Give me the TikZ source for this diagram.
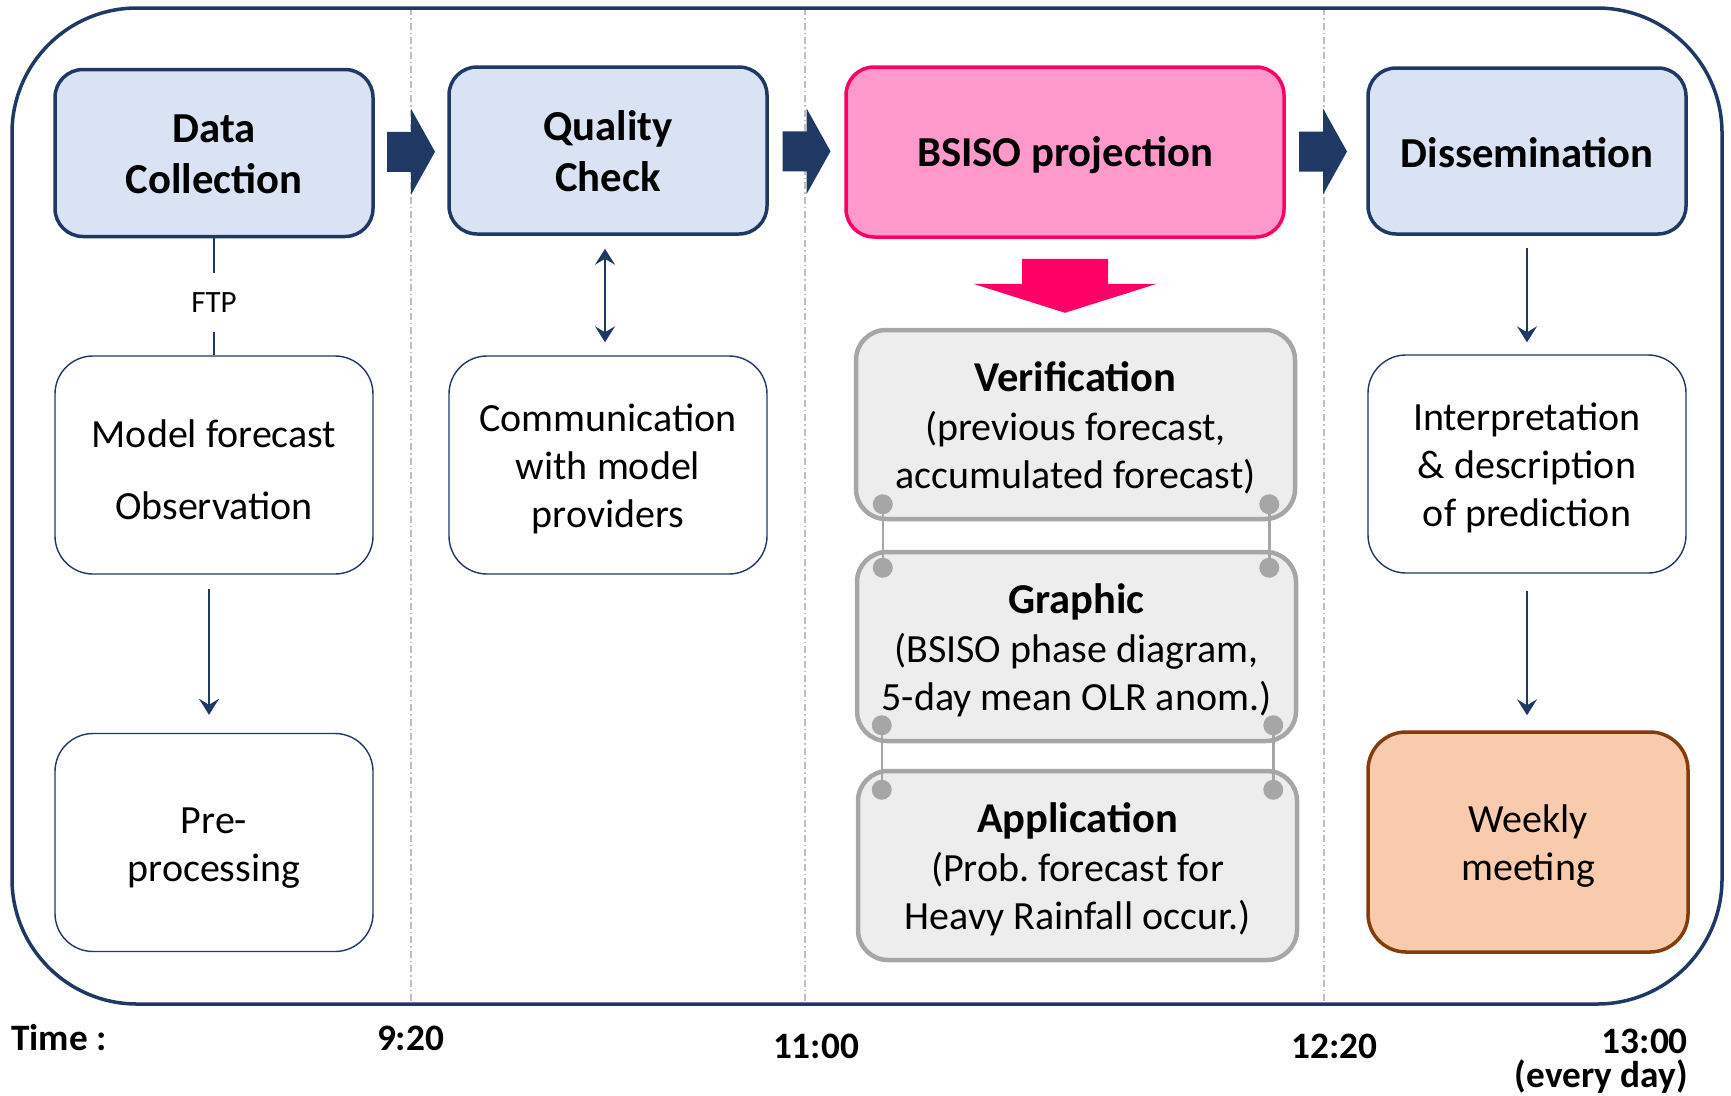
\documentclass[tikz,border=0pt]{standalone}
\usepackage{fontspec}
\setmainfont{Carlito}
\frenchspacing
\usetikzlibrary{arrows.meta,calc}
\definecolor{navy}{HTML}{203864}
\definecolor{lblue}{HTML}{DAE3F3}
\definecolor{pinkfill}{HTML}{FF99CC}
\definecolor{pinkline}{HTML}{FF0066}
\definecolor{grayfill}{HTML}{EDEDED}
\definecolor{grayline}{HTML}{A6A6A6}
\definecolor{orfill}{HTML}{F8CBAD}
\definecolor{orline}{HTML}{843C0C}
\definecolor{guidegray}{HTML}{BFBFBF}
\newcommand\navyarrow[1]{\fill[navy] ($(#1)+(-24,-20)$) -- ($(#1)+(0,-20)$) -- ($(#1)+(0,-43)$) -- ($(#1)+(24,0)$) -- ($(#1)+(0,43)$) -- ($(#1)+(0,20)$) -- ($(#1)+(-24,20)$) -- cycle;}
\newcommand\txtdown[2]{\raisebox{-#1}[\height][\depth]{\begin{tabular}{@{}c@{}}#2\end{tabular}}}
\newcommand\graytitle[1]{{\fontsize{42.5}{48.5}\selectfont\bfseries #1}}
\begin{document}
\begin{tikzpicture}[x=1pt,y=-1pt,
  topbox/.style={draw=navy, line width=3.5pt, fill=lblue, rounded corners=28pt,
    minimum width=318pt, minimum height=167pt, inner sep=0pt,
    font=\fontsize{42.7}{51}\selectfont\bfseries},
  whitebox/.style={draw=navy, line width=1.4pt, fill=white, rounded corners=38pt,
    minimum width=318pt, minimum height=218pt, inner sep=0pt,
    font=\fontsize{40}{48}\selectfont},
  graybox/.style={draw=grayline, line width=4.5pt, fill=grayfill, rounded corners=30pt,
    minimum width=439pt, minimum height=189pt, inner sep=0pt,
    font=\fontsize{40}{48.5}\selectfont},
  dotnode/.style={circle, fill=grayline, inner sep=0pt, minimum size=20pt},
  chainline/.style={draw=grayline, line width=2.5pt},
  guide/.style={draw=guidegray, line width=1.2pt, dash pattern=on 7pt off 3pt on 1.5pt off 3pt},
  arr/.style={draw=navy, line width=1.8pt, -{Stealth[length=16pt, width=20pt, inset=6pt]}},
  biarr/.style={draw=navy, line width=1.8pt, {Stealth[length=16pt, width=20pt, inset=6pt]}-{Stealth[length=16pt, width=20pt, inset=6pt]}},
  timelbl/.style={font=\fontsize{37.3}{40}\selectfont\bfseries, inner sep=0pt},
]
\useasboundingbox (0,0) rectangle (1731,1095);

% guides
\draw[guide] (411,8) -- (411,1004);
\draw[guide] (805,8) -- (805,1004);
\draw[guide] (1324,8) -- (1324,1004);

% frame
\draw[navy, line width=3.5pt, rounded corners=125pt] (12,8) rectangle (1722,1004);

% top row
\node[topbox] (dc) at (214,153) {\txtdown{4.7pt}{Data\\Collection}};
\node[topbox] (qc) at (608,150.5) {\txtdown{4.8pt}{Quality\\Check}};
\node[topbox, draw=pinkline, fill=pinkfill, minimum width=438pt, minimum height=170pt] (bsiso) at (1065,152) {\txtdown{4.1pt}{BSISO projection}};
\node[topbox, minimum height=166pt] (dis) at (1527,151) {\txtdown{5.9pt}{Dissemination}};

% block arrows
\coordinate (a1) at ($(dc.east)!0.5!(qc.west)$);
\coordinate (a2) at ($(qc.east)!0.5!(bsiso.west)$);
\coordinate (a3) at ($(bsiso.east)!0.5!(dis.west)+(-3,0)$);
\navyarrow{a1}
\navyarrow{a2}
\navyarrow{a3}

% white boxes
\node[whitebox] (model) at (214,465) {\txtdown{9.2pt}{Model forecast\\[24pt]Observation}};
\node[whitebox] (comm) at (608,465) {\txtdown{4.5pt}{Communication\\with model\\providers}};
\node[whitebox] (pre) at (214,842.5) {\txtdown{5pt}{Pre-\\processing}};
\node[whitebox] (interp) at (1527,464) {\txtdown{4.5pt}{Interpretation\\\& description\\of prediction}};
\node[whitebox, draw=orline, fill=orfill, line width=3.5pt, minimum width=320pt, minimum height=220pt] (weekly) at (1528,842) {\txtdown{4.5pt}{Weekly\\meeting}};

% gray boxes
\node[graybox] (verif) at (1075.5,424.5) {\txtdown{6pt}{\graytitle{Verification}\\(previous forecast,\\accumulated forecast)}};
\node[graybox] (graphic) at (1076.5,646.5) {\txtdown{6pt}{\graytitle{Graphic}\\(BSISO phase diagram,\\5-day mean OLR anom.)}};
\node[graybox] (app) at (1077.5,865.5) {\txtdown{6pt}{\graytitle{Application}\\(Prob. forecast for\\Heavy Rainfall occur.)}};

% pink arrow
\coordinate (pa) at ($(bsiso.south)+(0,46)$);
\fill[pinkline] ($(pa)+(-43,-26)$) -- ($(pa)+(43,-26)$) -- ($(pa)+(43,-1)$) -- ($(pa)+(92,-1)$)
  -- ($(pa)+(0,28)$) -- ($(pa)+(-92,-1)$) -- ($(pa)+(-43,-1)$) -- cycle;

% chain connectors
\node[dotnode] (v1) at ($(verif.south west)+(29,-17)$) {};
\node[dotnode] (v2) at ($(verif.south east)+(-28,-17)$) {};
\node[dotnode] (g1) at ($(graphic.north west)+(28,18)$) {};
\node[dotnode] (g2) at ($(graphic.north east)+(-29,18)$) {};
\node[dotnode] (g3) at ($(graphic.south west)+(27,-18)$) {};
\node[dotnode] (g4) at ($(graphic.south east)+(-25,-18)$) {};
\node[dotnode] (p1) at ($(app.north west)+(26,21)$) {};
\node[dotnode] (p2) at ($(app.north east)+(-26,21)$) {};
\draw[chainline] (v1) -- (g1);
\draw[chainline] (v2) -- (g2);
\draw[chainline] (g3) -- (p1);
\draw[chainline] (g4) -- (p2);

% thin connectors
\draw[draw=navy, line width=1.4pt] (dc.south) -- node[pos=0.55, fill=white, inner xsep=4pt, inner ysep=19.5pt, font=\fontsize{31}{36}\selectfont] (ftp) {FTP} (model.north);
\draw[arr, shorten <=14pt, shorten >=18pt] ([xshift=-5pt]model.south) -- ([xshift=-5pt]pre.north);
\draw[biarr, shorten <=13pt, shorten >=13pt] ([xshift=-3pt]qc.south) -- ([xshift=-3pt]comm.north);
\draw[arr, shorten <=12pt, shorten >=12pt] (dis.south) -- (interp.north);
\draw[arr, shorten <=17pt, shorten >=15pt] (interp.south) -- ([xshift=-1pt]weekly.north);

% time labels
\node[timelbl, anchor=base west] (tl) at (11,1050) {Time :};
\node[timelbl, anchor=base] (t1) at (410.5,1050) {9:20};
\node[timelbl, anchor=base] (t2) at (816,1058) {11:00};
\node[timelbl, anchor=base] (t3) at (1334.5,1058) {12:20};
\node[timelbl, anchor=base east] (t4) at (1688,1053) {13:00};
\node[timelbl, anchor=base east] (t5) at (1688,1087) {(every day)};
\end{tikzpicture}
\end{document}
